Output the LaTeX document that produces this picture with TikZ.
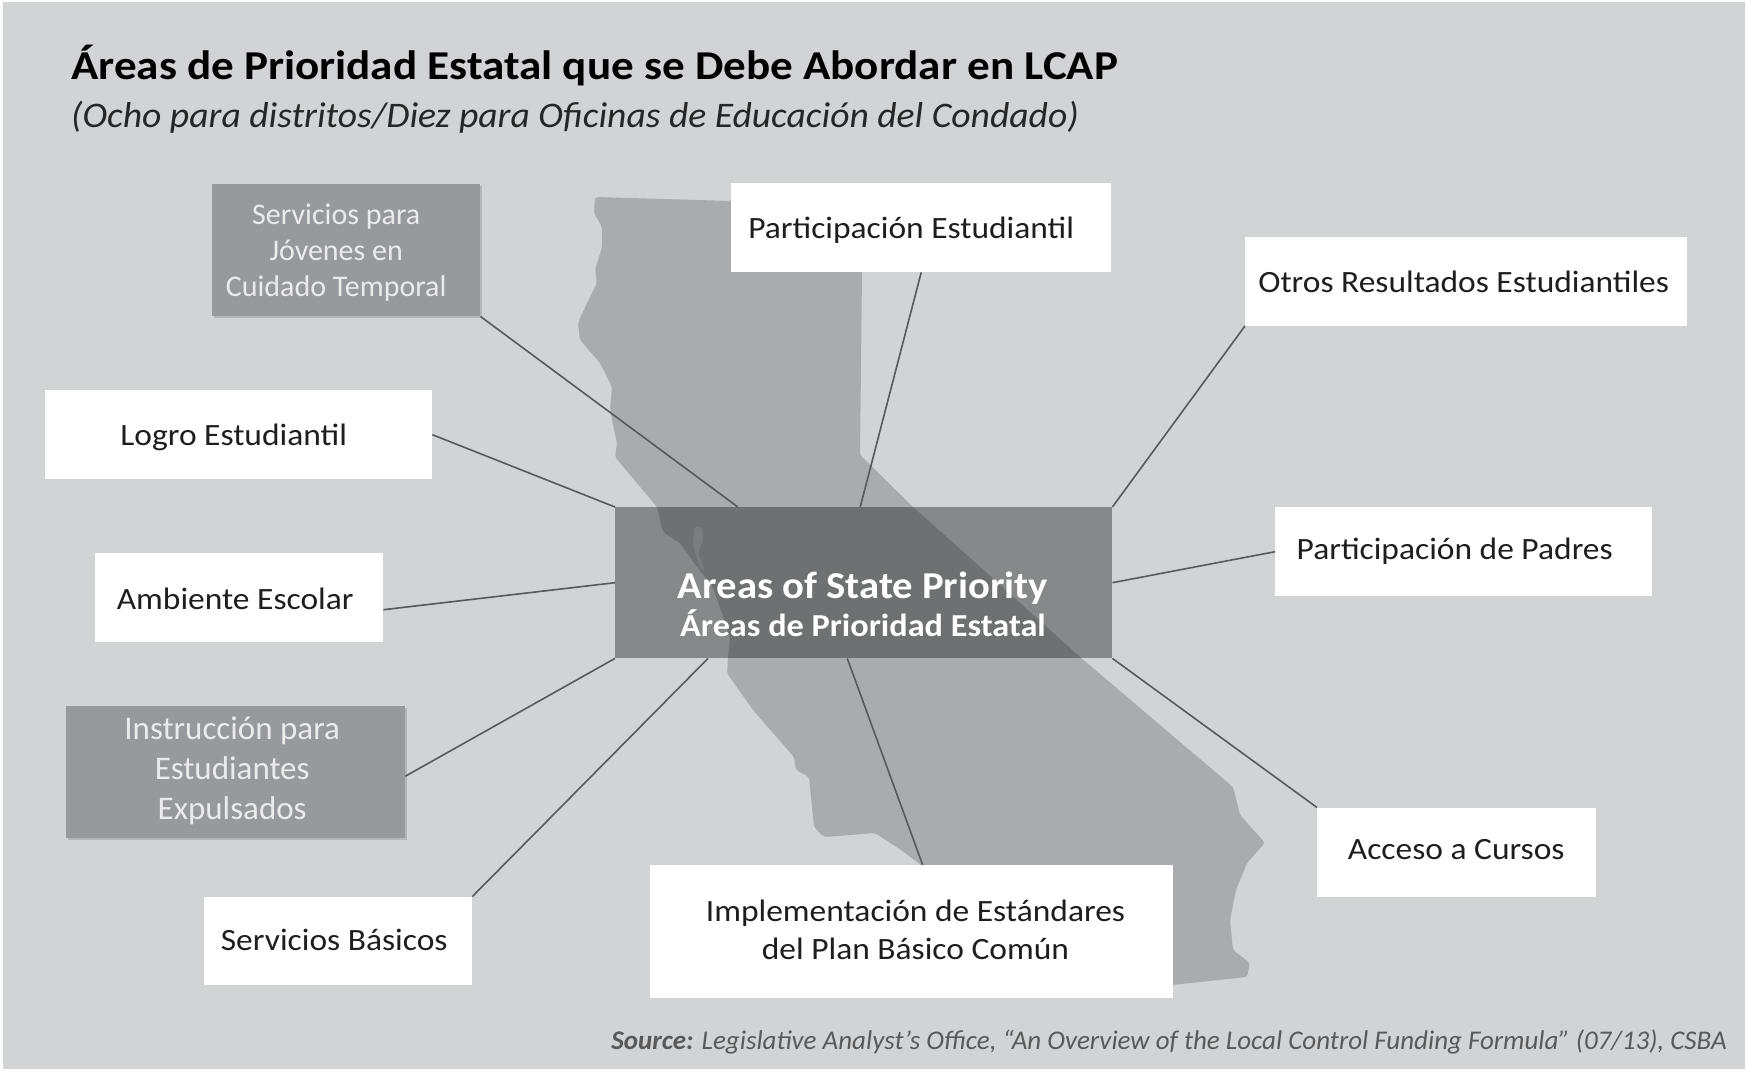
\documentclass[tikz,border=0pt]{standalone}
\usepackage{fontspec}
\setmainfont{Carlito}
\newfontfamily\fA[FakeStretch=1.08]{Carlito}
\newfontfamily\fT[FakeStretch=1.10]{Carlito}
\newfontfamily\fS[FakeStretch=1.045]{Carlito}
\newfontfamily\fC[FakeStretch=1.07]{Carlito}
\usetikzlibrary{calc,shadows}
\definecolor{bgc}{HTML}{D1D3D5}
\definecolor{cac}{HTML}{A9ABAE}
\definecolor{bayc}{HTML}{BDBFC1}
\definecolor{greyb}{HTML}{98999C}
\definecolor{linec}{HTML}{58595C}
\definecolor{txt}{HTML}{1E1E1E}
\newcommand{\tsh}[3]{\raisebox{#2}[\height][\depth]{\hspace*{#1}\begin{tabular}{@{}c@{}}#3\end{tabular}}}
\tikzset{
  whitebox/.style={fill=white, draw=none, inner sep=0pt, align=center, text=txt, font=\fA\fontsize{31}{38}\selectfont, anchor=north west},
  greybox/.style={fill=greyb, draw=none, inner sep=0pt, align=center, text=white!92!black, font=\fontsize{30}{36}\selectfont, anchor=north west, drop shadow={shadow xshift=2pt, shadow yshift=-2pt, fill=black, opacity=.14}},
  conn/.style={draw=linec, line width=1.6pt},
}
\begin{document}
\begin{tikzpicture}[x=1pt,y=-1pt]
\useasboundingbox (0,0) rectangle (1746,1071);
\fill[white] (0,0) rectangle (1746,1071);
\fill[bgc] (3,2) rectangle (1745,1069);
% California
\fill[cac, rounded corners=3pt] (595,197) -- (731,201) -- (862,203) -- (862,272) -- (860,455) -- (913,507) -- (987,573)
 -- (1080,657) -- (1233,787) -- (1240,815) -- (1265,843) -- (1247,863) -- (1236,890) -- (1230,920) -- (1233,950)
 -- (1250,963) -- (1247,977) -- (1172,985) -- (1100,990) -- (921,865) -- (901,850) -- (875,833) -- (824,837)
 -- (814,827) -- (809,777) -- (796,770) -- (794,757) -- (753,710) -- (727,673) -- (728,657) -- (730,637)
 -- (713,587) -- (697,567) -- (680,543) -- (663,532) -- (657,507) -- (615,457) -- (617,443)
 -- (610,410) -- (612,387) -- (600,363) -- (580,340) -- (578,323) -- (587,303) -- (597,283) -- (595,270)
 -- (602,247) -- (602,227) -- (594,213) -- cycle;
% bay
\fill[bayc, rounded corners=2pt] (694,527) -- (702,527) -- (703,540) -- (698,553) -- (705,572) -- (699,566) -- (693,545) -- cycle;
% central box
\node[fill=black!90, fill opacity=.4, text opacity=1, inner sep=0pt, minimum width=497pt, minimum height=151pt, anchor=north west] (central) at (615,507) {};
\node[text=white, align=center, font=\fC\bfseries\fontsize{38}{40}\selectfont, inner sep=0pt] (centraltext) at (863,604) {Areas of State Priority\\[-2pt]{\fontsize{32}{36}\selectfont Áreas de Prioridad Estatal}};
% title
\node[anchor=west, inner sep=0pt, font=\fT\bfseries\fontsize{41}{46}\selectfont, text=black] (title) at (71,66) {Áreas de Prioridad Estatal que se Debe Abordar en LCAP};
\node[anchor=west, inner sep=0pt, font=\fS\itshape\fontsize{36}{40}\selectfont, text=black!85] (subtitle) at (71,117) {(Ocho para distritos/Diez para Oficinas de Educación del Condado)};
% boxes
\node[greybox, minimum width=268pt, minimum height=132pt] (foster) at (212,184) {\tsh{-20pt}{-3.3pt}{Servicios para\\Jóvenes en\\Cuidado Temporal}};
\node[whitebox, minimum width=380pt, minimum height=89pt] (part) at (731,183) {\tsh{-20pt}{-3.3pt}{Participación Estudiantil}};
\node[whitebox, minimum width=442pt, minimum height=89pt] (otros) at (1245,236.5) {\tsh{-5pt}{-3.3pt}{Otros Resultados Estudiantiles}};
\node[whitebox, minimum width=387pt, minimum height=89pt] (logro) at (45,390) {\tsh{-10pt}{-3.3pt}{Logro Estudiantil}};
\node[whitebox, minimum width=288pt, minimum height=89pt] (amb) at (95,552.5) {\tsh{-8pt}{-5pt}{Ambiente Escolar}};
\node[whitebox, minimum width=377pt, minimum height=89pt] (padres) at (1275,507) {\tsh{-18pt}{0pt}{Participación de Padres}};
\node[greybox, minimum width=339pt, minimum height=132pt, font=\fontsize{33}{40}\selectfont] (instr) at (66,706) {\tsh{-7pt}{1pt}{Instrucción para\\Estudiantes\\Expulsados}};
\node[whitebox, minimum width=268pt, minimum height=88pt] (basic) at (204,896.5) {\tsh{-8pt}{-2.5pt}{Servicios Básicos}};
\node[whitebox, minimum width=279pt, minimum height=89pt] (acceso) at (1317,807.5) {\tsh{-1pt}{0pt}{Acceso a Cursos}};
\node[whitebox, minimum width=523pt, minimum height=133pt] (impl) at (649.5,865) {\tsh{8.5pt}{-1.5pt}{Implementación de Estándares\\del Plan Básico Común}};
% source
\node[anchor=east, inner sep=0pt, font=\itshape\fontsize{27}{30}\selectfont, text=black!65] (source) at (1727,1042) {\textbf{Source:} Legislative Analyst’s Office, “An Overview of the Local Control Funding Formula” (07/13), CSBA};
% connectors
\draw[conn] (foster.south east) -- ($(central.north west)!0.247!(central.north east)$);
\draw[conn] ($(part.south west)!0.50!(part.south east)$) -- ($(central.north west)!0.493!(central.north east)$);
\draw[conn] (otros.south west) -- (central.north east);
\draw[conn] (padres.west) -- (central.east);
\draw[conn] (acceso.north west) -- (central.south east);
\draw[conn] ($(impl.north west)!0.522!(impl.north east)$) -- ($(central.south west)!0.467!(central.south east)$);
\draw[conn] (basic.north east) -- ($(central.south west)!0.187!(central.south east)$);
\draw[conn] ($(instr.north east)!0.53!(instr.south east)$) -- (central.south west);
\draw[conn] ($(amb.north east)!0.64!(amb.south east)$) -- (central.west);
\draw[conn] ($(logro.north east)!0.5!(logro.south east)$) -- (central.north west);
\end{tikzpicture}
\end{document}
